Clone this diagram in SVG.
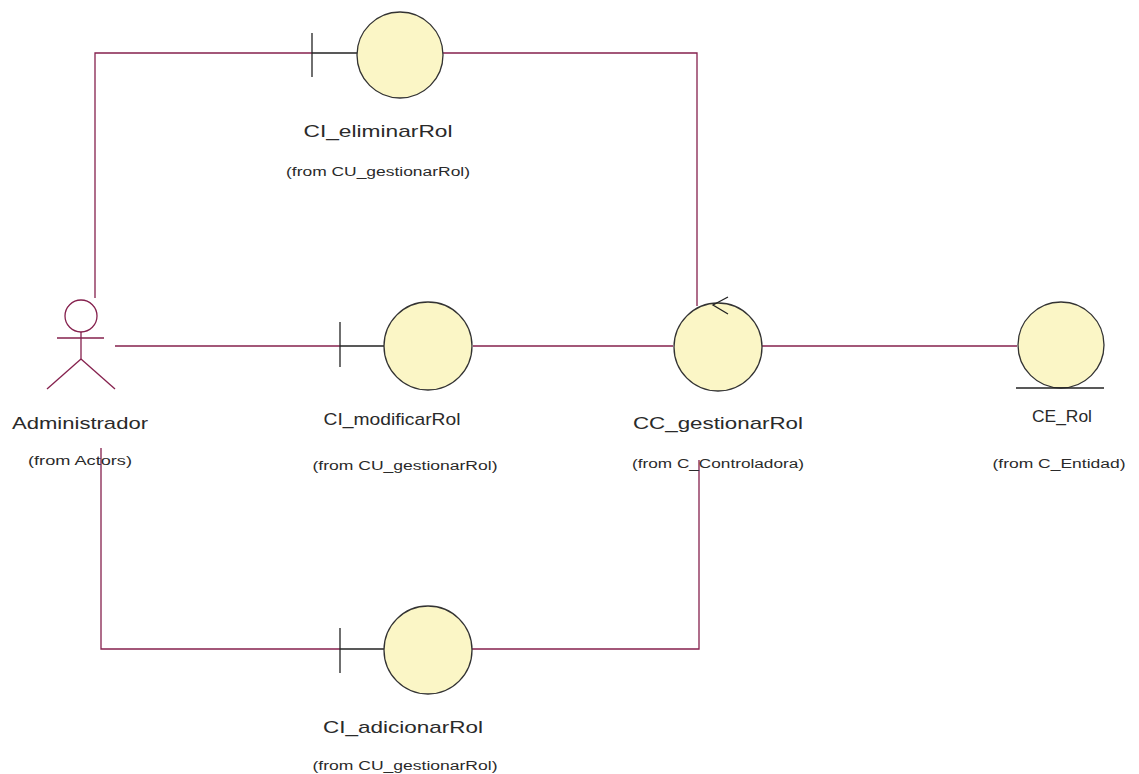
<svg xmlns="http://www.w3.org/2000/svg" width="1139" height="774" viewBox="0 0 1139 774">
<style>
.conn{fill:none;stroke:#85204d;stroke-width:1.3}
.body{fill:#fbf6c6;stroke:#333;stroke-width:1.3}
.bar{fill:none;stroke:#222;stroke-width:1.3}
.actor{fill:none;stroke:#85204d;stroke-width:1.3}
.name{font-family:"Liberation Sans",Arial,sans-serif;font-size:17px;fill:#2a2a2a;text-anchor:middle}
.from{font-family:"Liberation Sans",Arial,sans-serif;font-size:12.5px;fill:#2a2a2a;text-anchor:middle}
</style>
<rect width="1139" height="774" fill="#ffffff"/>
<g id="connectors">
<polyline class="conn" points="95,298 95,53 312,53"/>
<polyline class="conn" points="443,53 697,53 697,306"/>
<line class="conn" x1="115" y1="346" x2="340" y2="346"/>
<line class="conn" x1="473" y1="346" x2="673" y2="346"/>
<line class="conn" x1="762" y1="346" x2="1017" y2="346"/>
<polyline class="conn" points="101,448 101,649 340,649"/>
<polyline class="conn" points="472,649 699,649 699,460"/>
</g>
<g id="Administrador">
<circle class="actor" cx="81" cy="316" r="16"/>
<line class="actor" x1="81" y1="332" x2="81" y2="359"/>
<line class="actor" x1="57" y1="338" x2="104" y2="338"/>
<line class="actor" x1="81" y1="359" x2="47" y2="389"/>
<line class="actor" x1="81" y1="359" x2="115" y2="389"/>
<text class="name" x="80" y="429" textLength="136" lengthAdjust="spacingAndGlyphs">Administrador</text>
<text class="from" x="80" y="465" textLength="104" lengthAdjust="spacingAndGlyphs">(from Actors)</text>
</g>
<g id="CI_eliminarRol">
<line class="bar" x1="312" y1="33" x2="312" y2="77"/>
<line class="bar" x1="312" y1="53" x2="357" y2="53"/>
<circle class="body" cx="400" cy="55" r="43"/>
<text class="name" x="378" y="137" textLength="149" lengthAdjust="spacingAndGlyphs">CI_eliminarRol</text>
<text class="from" x="378" y="176" textLength="184" lengthAdjust="spacingAndGlyphs">(from CU_gestionarRol)</text>
</g>
<g id="CI_modificarRol">
<line class="bar" x1="340" y1="322" x2="340" y2="367"/>
<line class="bar" x1="340" y1="346" x2="384" y2="346"/>
<circle class="body" cx="428" cy="346" r="44"/>
<text class="name" x="392" y="425" textLength="137" lengthAdjust="spacingAndGlyphs">CI_modificarRol</text>
<text class="from" x="405" y="470" textLength="185" lengthAdjust="spacingAndGlyphs">(from CU_gestionarRol)</text>
</g>
<g id="CC_gestionarRol">
<circle class="body" cx="718" cy="347" r="44"/>
<polyline class="bar" points="728,297 713,305 728,314"/>
<text class="name" x="718" y="429" textLength="170" lengthAdjust="spacingAndGlyphs">CC_gestionarRol</text>
<text class="from" x="718" y="468" textLength="172" lengthAdjust="spacingAndGlyphs">(from C_Controladora)</text>
</g>
<g id="CE_Rol">
<circle class="body" cx="1061" cy="345" r="43"/>
<line class="bar" x1="1016" y1="388" x2="1104" y2="388"/>
<text class="name" x="1062" y="422" textLength="60" lengthAdjust="spacingAndGlyphs">CE_Rol</text>
<text class="from" x="1059" y="468" textLength="133" lengthAdjust="spacingAndGlyphs">(from C_Entidad)</text>
</g>
<g id="CI_adicionarRol">
<line class="bar" x1="340" y1="628" x2="340" y2="673"/>
<line class="bar" x1="340" y1="649" x2="384" y2="649"/>
<circle class="body" cx="428" cy="650" r="44"/>
<text class="name" x="403" y="733" textLength="160" lengthAdjust="spacingAndGlyphs">CI_adicionarRol</text>
<text class="from" x="405" y="770" textLength="185" lengthAdjust="spacingAndGlyphs">(from CU_gestionarRol)</text>
</g>
</svg>
